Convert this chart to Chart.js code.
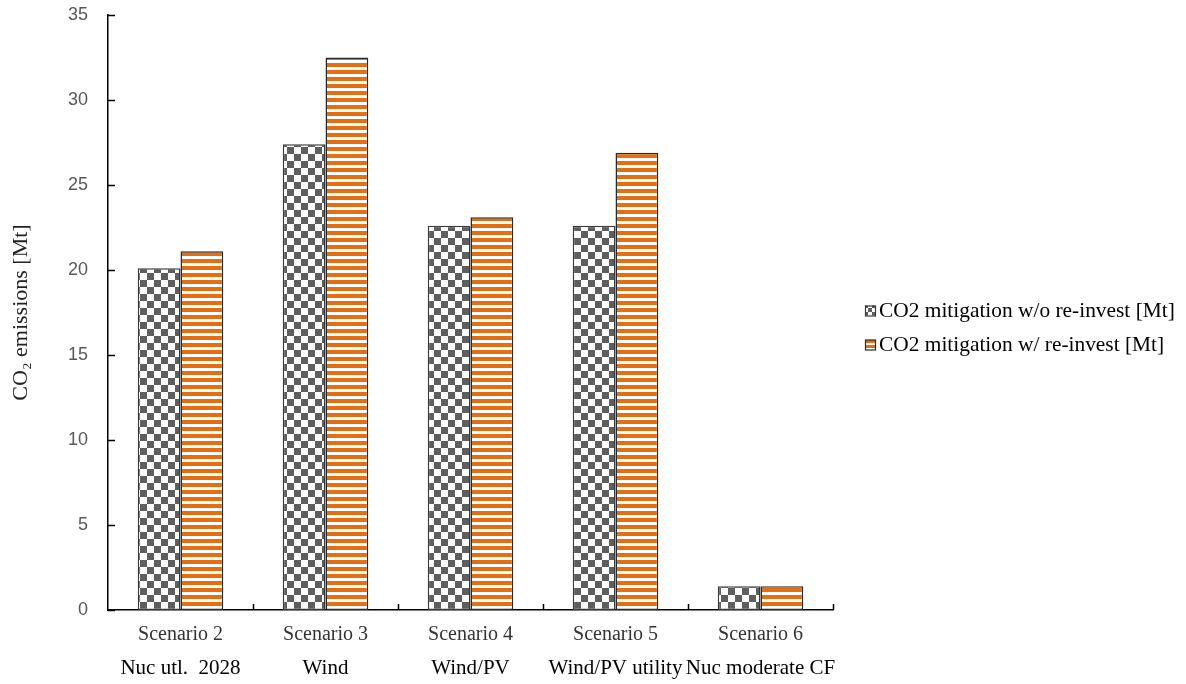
<!DOCTYPE html>
<html>
<head>
<meta charset="utf-8">
<title>CO2 mitigation by scenario</title>
<script src="https://cdn.jsdelivr.net/npm/chart.js@4/dist/chart.umd.min.js"></script>
<style>
  html, body { margin: 0; padding: 0; background: #ffffff; }
  #wrap { width: 1186px; height: 684px; }
</style>
</head>
<body>
<div id="wrap"><canvas id="c" width="1186" height="684"></canvas></div>
<script>
// Scenario names (first label line) and descriptions (second label line)
const scenarios = ['Scenario 2', 'Scenario 3', 'Scenario 4', 'Scenario 5', 'Scenario 6'];
const descriptions = ['Nuc utl.  2028', 'Wind', 'Wind/PV', 'Wind/PV utility', 'Nuc moderate CF'];

// CO2 mitigation in Mt
const mitigationNoReinvest = [20.1, 27.4, 22.6, 22.6, 1.4];
const mitigationReinvest = [21.1, 32.5, 23.1, 26.9, 1.4];

// Value axis ticks
const yTicks = [0, 5, 10, 15, 20, 25, 30, 35];

const seriesNames = ['CO2 mitigation w/o re-invest [Mt]', 'CO2 mitigation w/ re-invest [Mt]'];

const SERIF = '"Liberation Serif", "Times New Roman", serif';
const SANS = '"Liberation Sans", Arial, sans-serif';

// Fill patterns: gray checkerboard and orange horizontal stripes
function checkerPattern(s) {
  const pc = document.createElement('canvas');
  pc.width = s * 2; pc.height = s * 2;
  const g = pc.getContext('2d');
  g.fillStyle = '#ffffff';
  g.fillRect(0, 0, s * 2, s * 2);
  g.fillStyle = '#5e5e5e';
  g.fillRect(0, 0, s, s);
  g.fillRect(s, s, s, s);
  return g.createPattern(pc, 'repeat');
}
function stripePattern(on, off) {
  const pc = document.createElement('canvas');
  pc.width = 8; pc.height = on + off;
  const g = pc.getContext('2d');
  g.fillStyle = '#ffffff';
  g.fillRect(0, 0, 8, on + off);
  g.fillStyle = '#e56f10';
  g.fillRect(0, 0, 8, on);
  return g.createPattern(pc, 'repeat');
}

const barFills = [checkerPattern(7), stripePattern(4, 3)];
const legendFills = [checkerPattern(4), stripePattern(3, 2)];
const barBorders = ['#3a3a3a', '#2a2a2a'];

// Inward tick marks, description line under each scenario, and the legend on the right
const extrasPlugin = {
  id: 'extras',
  afterDraw(chart) {
    const ctx = chart.ctx;
    const area = chart.chartArea;
    const xs = chart.scales.x;
    const ys = chart.scales.y;
    ctx.save();
    ctx.strokeStyle = '#000000';
    ctx.lineWidth = 1.5;
    ctx.beginPath();
    yTicks.forEach(v => {
      const py = Math.round(ys.getPixelForValue(v)) + 0.5;
      ctx.moveTo(area.left, py);
      ctx.lineTo(area.left + 7, py);
    });
    for (let i = 0; i < scenarios.length; i++) {
      const bx = i < scenarios.length - 1
        ? (xs.getPixelForTick(i) + xs.getPixelForTick(i + 1)) / 2
        : area.right;
      const px = Math.round(bx) + 0.5;
      ctx.moveTo(px, area.bottom);
      ctx.lineTo(px, area.bottom - 6);
    }
    ctx.stroke();

    ctx.fillStyle = '#000000';
    ctx.font = '21px ' + SERIF;
    ctx.textAlign = 'center';
    ctx.textBaseline = 'middle';
    descriptions.forEach((d, i) => {
      ctx.fillText(d, xs.getPixelForTick(i), area.bottom + 58);
    });

    // legend
    const lx = area.right + 32;
    const ly0 = (area.top + area.bottom) / 2 + 15;
    const gap = 34;
    ctx.textAlign = 'left';
    ctx.font = '21.4px ' + SERIF;
    chart.data.datasets.forEach((ds, i) => {
      const cy = ly0 + (i - 0.5) * gap;
      ctx.fillStyle = legendFills[i];
      ctx.fillRect(lx, cy - 5, 10, 10);
      ctx.strokeStyle = barBorders[i];
      ctx.lineWidth = 1.2;
      ctx.strokeRect(lx + 0.5, cy - 4.5, 10, 10);
      ctx.fillStyle = '#000000';
      ctx.fillText(ds.label, lx + 14, cy + 1);
    });
    ctx.restore();
  }
};

function drawChart() {
  const ctx = document.getElementById('c').getContext('2d');
  new Chart(ctx, {
    type: 'bar',
    data: {
      labels: scenarios,
      datasets: [
        {
          label: seriesNames[0],
          data: mitigationNoReinvest,
          backgroundColor: barFills[0],
          borderColor: barBorders[0],
          borderWidth: 1.5,
          borderSkipped: false,
          categoryPercentage: 0.59,
          barPercentage: 1.0
        },
        {
          label: seriesNames[1],
          data: mitigationReinvest,
          backgroundColor: barFills[1],
          borderColor: barBorders[1],
          borderWidth: 1.5,
          borderSkipped: false,
          categoryPercentage: 0.59,
          barPercentage: 1.0
        }
      ]
    },
    options: {
      responsive: false,
      devicePixelRatio: 1,
      animation: false,
      layout: { padding: { top: 15, right: 353, bottom: 0, left: 0 } },
      plugins: {
        tooltip: { enabled: false },
        legend: { display: false }
      },
      scales: {
        x: {
          grid: { display: false, drawTicks: false },
          border: { display: true, color: '#000000', width: 1.5 },
          ticks: {
            color: '#333333',
            font: { family: SERIF, size: 20 },
            padding: 13,
            maxRotation: 0,
            autoSkip: false
          },
          afterFit(scale) {
            scale.height = 74;
            scale.paddingLeft = 0;
            scale.paddingRight = 0;
          }
        },
        y: {
          min: 0,
          max: 35,
          afterBuildTicks(scale) { scale.ticks = yTicks.map(v => ({ value: v })); },
          grid: { display: false, drawTicks: false },
          border: { display: true, color: '#000000', width: 1.5 },
          ticks: {
            color: '#595959',
            font: { family: SANS, size: 18 },
            padding: 20
          },
          title: {
            display: true,
            text: 'CO₂ emissions [Mt]',
            color: '#222222',
            font: { family: SERIF, size: 22 },
            padding: { top: 8, bottom: 0 }
          },
          afterFit(scale) {
            scale.width = 108;
            scale.paddingTop = 0;
            scale.paddingBottom = 0;
          }
        }
      }
    },
    plugins: [extrasPlugin]
  });
}

Promise.all([
  document.fonts.load('21px "Liberation Serif"'),
  document.fonts.load('18px "Liberation Sans"')
]).then(drawChart, drawChart);
</script>
</body>
</html>
